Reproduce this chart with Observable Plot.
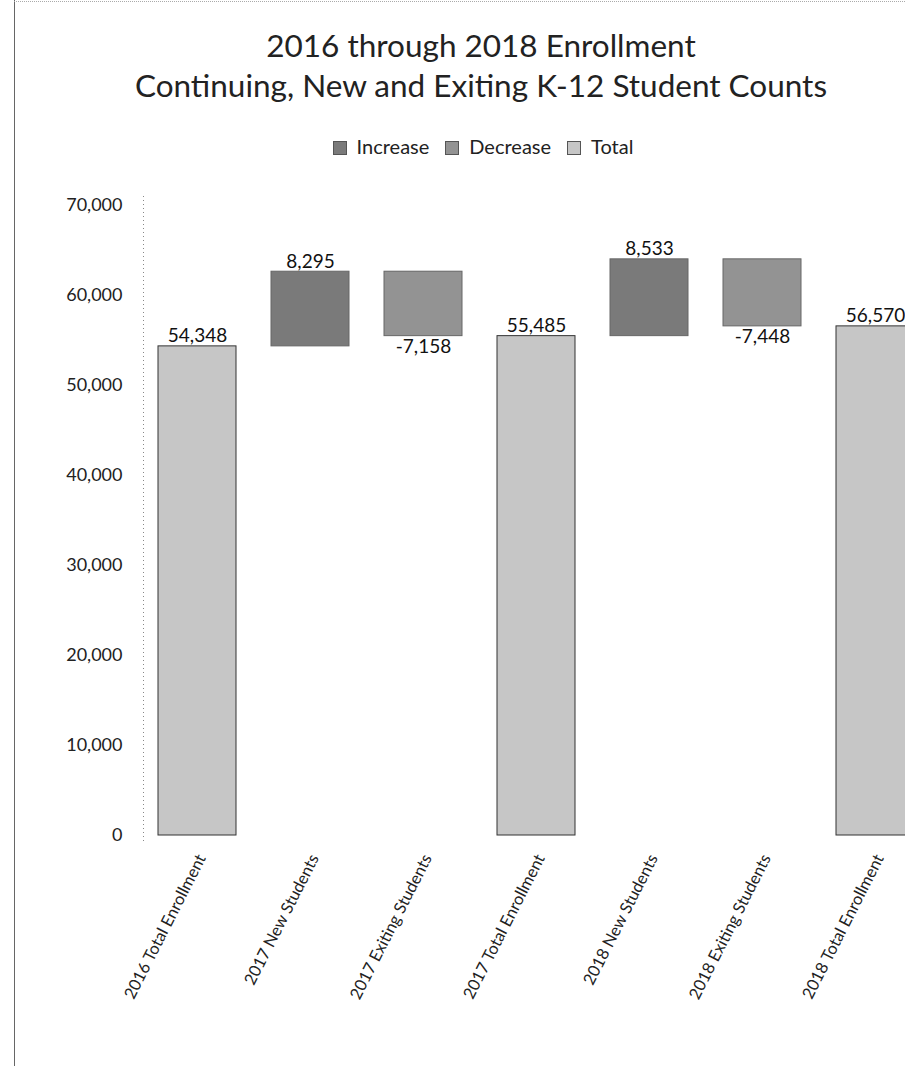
<!DOCTYPE html>
<html>
<head>
<meta charset="utf-8">
<script src="https://cdn.jsdelivr.net/npm/d3@7"></script>
<script src="https://cdn.jsdelivr.net/npm/@observablehq/plot@0.6"></script>
<style>
  html, body { margin: 0; padding: 0; background: #fff; overflow: hidden; }
  #wrap { position: relative; width: 905px; height: 1066px; font-family: Lato, "Open Sans", sans-serif; color: #222; }
  #border { position: absolute; left: 14px; top: 0; width: 0; height: 1066px; border-left: 1px solid #666; }
  #topline { position: absolute; left: 14px; top: 1px; width: 891px; height: 0; border-top: 1px dotted #aaa; }
  #title { position: absolute; left: 0; top: 25px; width: 962px; text-align: center; font-size: 31.5px; line-height: 40px; color: #222; }
  #legend { position: absolute; left: 0; top: 134px; width: 966px; text-align: center; font-size: 20px; line-height: 24px; color: #222; }
  #legend span.item { display: inline-block; margin: 0 8px; }
  #legend span.sw { display: inline-block; width: 14px; height: 14px; vertical-align: -1px; margin-right: 10px; border: 1px solid #555; box-sizing: border-box; }
  #chart { position: absolute; left: 0; top: 175px; }
</style>
</head>
<body>
<div id="wrap">
  <div id="border"></div>
  <div id="topline"></div>
  <div id="title">2016 through 2018 Enrollment<br>Continuing, New and Exiting K-12 Student Counts</div>
  <div id="legend"></div>
  <div id="chart"></div>
</div>
<script>
const categories = [
  "2016 Total Enrollment",
  "2017 New Students",
  "2017 Exiting Students",
  "2017 Total Enrollment",
  "2018 New Students",
  "2018 Exiting Students",
  "2018 Total Enrollment"
];
const kinds = ["Total", "Increase", "Decrease", "Total", "Increase", "Decrease", "Total"];
const values = [54348, 8295, -7158, 55485, 8533, -7448, 56570];
const legendKeys = ["Increase", "Decrease", "Total"];
const legendColors = ["#7a7a7a", "#939393", "#c6c6c6"];
const yTicks = [0, 10000, 20000, 30000, 40000, 50000, 60000, 70000];

// waterfall table
let running = 0;
const rows = categories.map((cat, i) => {
  const kind = kinds[i], v = values[i];
  let y1, y2, labelY, below;
  if (kind === "Total") { y1 = 0; y2 = v; running = v; labelY = v; below = false; }
  else if (v >= 0) { y1 = running; y2 = running + v; running = y2; labelY = y2; below = false; }
  else { y2 = running; y1 = running + v; running = y1; labelY = y1; below = true; }
  return {cat, kind, value: v, y1, y2, labelY, below};
});

// legend
const leg = document.getElementById("legend");
legendKeys.forEach((k, i) => {
  const item = document.createElement("span");
  item.className = "item";
  const sw = document.createElement("span");
  sw.className = "sw";
  sw.style.background = legendColors[i];
  item.appendChild(sw);
  item.appendChild(document.createTextNode(k));
  leg.appendChild(item);
});

const fmt = d3.formatLocale({decimal: ".", thousands: ",", grouping: [3], currency: ["", ""], minus: "-"}).format(",");
const plot = Plot.plot({
  width: 905,
  height: 891,
  marginLeft: 143,
  marginRight: 0,
  marginTop: 0,
  marginBottom: 226,
  style: {fontFamily: "Lato, 'Open Sans', sans-serif", fontSize: "17px", color: "#222", background: "transparent", overflow: "hidden"},
  x: {domain: categories, range: [140, 931], paddingInner: 0.31, paddingOuter: 0.155, label: null},
  y: {domain: [0, 70000], range: [660, 30], label: null},
  color: {domain: legendKeys, range: legendColors},
  marks: [
    Plot.axisY({ticks: yTicks, tickFormat: d => fmt(d), tickSize: 0, tickPadding: 21, fontSize: 18, label: null}),
    Plot.axisX({tickRotate: -63, tickSize: 0, tickPadding: 15, dx: 4, fontSize: 16.5, label: null}),
    Plot.barY(rows, {
      x: "cat", y1: "y1", y2: "y2", fill: "kind",
      stroke: d => d.kind === "Total" ? "#333" : "#666",
      strokeWidth: 1
    }),
    Plot.text(rows.filter(d => !d.below), {
      x: "cat", y: "labelY", text: d => fmt(d.value),
      lineAnchor: "bottom", dy: -4, fontSize: 19, fill: "#111"
    }),
    Plot.text(rows.filter(d => d.below), {
      x: "cat", y: "labelY", text: d => fmt(d.value),
      lineAnchor: "top", dy: 3, fontSize: 19, fill: "#111"
    })
  ]
});

// dotted y-axis line
const ys = plot.scale("y");
d3.select(plot).append("line")
  .attr("x1", 143.5).attr("x2", 143.5)
  .attr("y1", ys.apply(71000)).attr("y2", ys.apply(-700))
  .attr("stroke", "#888").attr("stroke-dasharray", "1,3");

document.getElementById("chart").appendChild(plot);
</script>
</body>
</html>
